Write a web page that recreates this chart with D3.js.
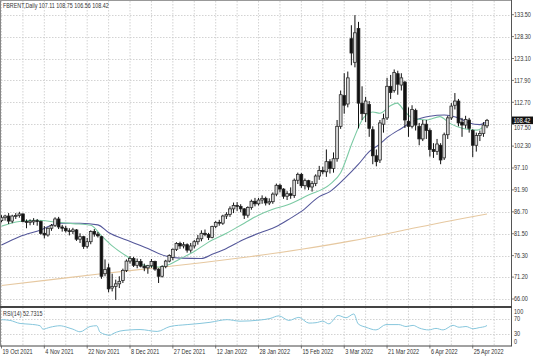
<!DOCTYPE html>
<html><head><meta charset="utf-8">
<script src="https://cdn.jsdelivr.net/npm/d3@7"></script>
<style>
body{margin:0;background:#fff;}
svg{display:block;}
text{font-family:"Liberation Sans",Arial,sans-serif;}
</style>
</head><body>
<svg id="c" width="536" height="357"></svg>
<script>
// ---------- DATA ----------
const symbolTitle = "FBRENT,Daily";
const lastOHLC = ["107.11","108.75","106.56","108.42"];
const opens  = [84.6,85.3,85.7,84.5,85.7,85.8,86.2,84.4,84.2,84.3,84.6,84.4,81.6,81.2,82.8,83.5,85.0,83.1,82.8,82.2,82.0,82.4,80.2,80.8,78.5,79.6,82.0,81.4,80.8,72.0,73.4,68.6,69.0,69.6,70.4,72.8,75.0,75.6,74.0,74.9,73.8,73.4,73.9,74.9,73.1,71.4,73.7,75.0,75.9,77.8,79.2,78.6,78.9,77.6,78.6,79.6,80.3,81.6,81.3,80.6,83.2,84.2,84.0,85.7,86.1,87.4,88.2,88.0,87.4,85.9,87.7,89.2,88.6,89.5,89.9,88.8,89.1,90.9,93.0,92.1,90.4,91.0,90.6,94.2,95.6,92.9,94.1,92.6,93.4,95.2,96.5,96.2,98.6,97.0,99.3,107.0,114.3,112.3,127.8,122.2,130.2,112.5,110.0,112.2,106.2,100.0,99.0,107.5,109.0,116.5,115.5,119.5,116.8,117.5,108.2,107.0,110.8,107.0,104.0,107.5,106.0,101.5,101.0,102.5,99.5,105.0,109.0,112.0,113.0,108.0,107.3,108.5,106.0,102.5,104.8,105.3,107.11];
const highs  = [85.9,86.0,86.4,86.0,86.4,86.7,86.3,84.9,84.9,85.2,85.0,84.6,83.3,83.0,83.8,85.4,85.5,83.6,83.4,82.8,82.9,82.6,81.6,81.0,80.5,82.3,82.6,81.9,81.0,75.4,74.4,72.0,70.6,71.4,73.2,75.4,76.2,76.0,75.6,75.5,74.4,74.1,75.5,75.1,73.3,74.0,75.3,76.6,78.0,79.5,79.6,79.5,79.2,79.3,80.0,81.2,82.3,82.5,81.7,83.4,84.5,84.8,86.0,86.6,88.0,88.9,89.0,88.5,87.6,88.0,89.6,90.0,90.0,90.6,90.3,89.9,91.3,93.4,93.4,92.3,91.6,92.5,94.6,96.0,95.9,94.6,94.3,94.0,95.6,97.6,97.4,101.5,99.2,100.8,108.5,115.5,119.6,120.0,131.0,133.4,131.8,116.5,114.0,113.0,107.0,101.5,108.5,110.0,118.5,119.2,120.5,120.2,119.6,117.8,111.5,112.0,111.2,107.8,108.5,108.5,106.5,103.0,104.0,103.0,105.5,109.5,112.5,114.9,113.5,109.0,109.5,109.0,106.3,105.5,106.0,108.0,108.75];
const lows   = [84.2,84.6,83.8,84.0,85.0,85.3,84.2,82.8,83.5,83.6,83.4,81.3,80.4,80.8,82.2,83.1,82.6,82.0,81.8,81.1,81.4,79.8,79.3,77.9,78.0,79.0,80.8,80.6,70.8,71.4,67.6,67.8,65.8,68.6,69.8,72.4,74.4,73.6,73.3,73.5,72.6,72.0,73.4,72.7,69.8,71.1,73.3,74.7,75.2,77.4,77.9,78.0,77.0,77.0,78.0,78.9,79.7,80.9,80.0,80.4,82.8,83.4,83.6,85.0,85.5,86.4,86.9,86.6,85.0,85.3,87.2,88.0,88.2,88.6,88.2,88.3,88.6,90.4,91.3,89.8,89.5,89.8,90.0,93.3,92.4,92.0,91.9,91.5,92.8,94.3,95.6,95.0,95.8,96.0,98.6,106.4,110.0,111.5,121.5,121.0,106.5,108.5,108.0,104.5,98.0,97.5,98.3,105.5,108.5,113.5,115.0,114.5,115.5,106.6,104.5,106.5,106.0,102.5,103.5,104.0,99.8,99.5,100.2,98.0,99.0,104.0,108.5,111.0,107.0,104.5,106.5,105.5,99.7,101.0,103.5,104.5,106.56];
const closes = [85.3,85.7,84.5,85.7,85.8,86.2,84.4,84.2,84.5,84.6,84.4,81.6,81.2,82.8,83.5,85.0,83.1,82.8,82.2,82.0,82.4,80.2,80.8,78.5,79.6,82.0,81.4,81.0,71.4,73.0,68.4,69.0,69.6,70.2,72.8,75.0,75.6,74.0,74.9,73.8,73.4,73.9,74.9,73.1,71.4,73.7,75.0,76.3,77.8,79.2,78.6,78.9,77.6,78.6,79.6,80.3,81.6,81.3,80.6,83.2,84.2,84.0,85.7,86.1,87.4,88.2,88.0,87.4,85.9,87.7,89.2,88.6,89.5,89.9,88.8,89.1,90.9,93.0,92.1,90.4,91.0,90.6,94.2,95.6,92.9,94.1,92.6,93.4,95.2,96.5,96.2,98.6,97.0,99.3,107.0,114.5,112.0,118.5,124.4,129.2,112.5,110.0,113.0,106.5,100.0,98.6,107.8,108.8,116.5,115.0,119.8,117.0,118.5,108.5,107.0,111.0,107.3,104.0,107.5,106.0,101.5,101.0,102.8,99.0,105.0,109.0,111.8,113.0,107.8,107.3,108.6,106.5,102.5,104.8,105.3,107.3,108.42];

// moving averages: [bar index, value]
const maFast = [[0,83.3],[5,84.4],[10,84.7],[15,84.3],[20,83.9],[25,83.5],[28,81.0],[31,78.6],[35,76.2],[40,74.0],[44,73.6],[47,74.2],[50,75.5],[54,77.3],[58,79.5],[63,81.6],[68,84.0],[72,85.9],[76,87.3],[80,88.3],[86,90.7],[92,93.2],[95,96.0],[98.5,103.7],[101.3,108.9],[104,110.4],[106,110.1],[108.8,111.8],[110.8,112.5],[113,110.5],[115.3,108.9],[119.2,108.5],[122.8,109.3],[125.6,107.7],[129.3,106.5],[133.2,106.1],[136,107.7]];
const maSlow = [[0,78.8],[5,80.8],[11,82.4],[16,84.0],[22,84.0],[27,83.6],[30,81.8],[35,80.0],[41,78.0],[46,76.2],[50,75.7],[56,75.6],[59,76.6],[63,78.0],[68,80.2],[73,81.9],[77,83.2],[81,85.2],[84,86.8],[89,90.3],[92,91.5],[96,94.5],[100,98.0],[103,101.0],[106,102.8],[108,104.3],[112,106.5],[116,108.5],[120,109.4],[124,109.7],[128,109.0],[131,107.8],[134,107.4],[136,108.2]];
const maLong = [[0,69.2],[14,70.6],[28,72.0],[42,73.3],[56,74.6],[70,76.1],[84,77.8],[98,79.8],[112,82.2],[124,84.3],[136,86.2]];
// RSI(14): [bar index, value]
const rsi = [[0,68],[2.4,66],[5.2,58],[8,56],[10.8,52],[11.6,43],[13.6,48],[16.4,52],[18.3,48],[20,43],[22,36],[24.8,50],[26.7,52],[27.6,35],[30.4,27],[31.2,31],[33.2,38],[36,41],[38.8,42],[43.6,37],[47.2,50],[52,55],[55.6,58],[58.4,61],[63.2,68],[66.8,64],[72.4,67],[75.2,71],[77.7,78],[80.5,66],[83.3,74],[86.1,59],[88.1,60],[90,64],[91.7,57],[94.3,79],[96.5,73],[98.7,83],[99.9,57],[102.1,48],[104.9,41],[107.7,55],[111.3,55],[113.3,50],[115.3,53],[117,46],[119.7,41],[121.7,45],[123.7,41],[126.5,53],[128.2,48],[130.1,50],[132.1,44],[133.8,47],[135.7,51],[136,52.7]];
const rsiLabel = "RSI(14) 52.7315";
const priceTicks = ["133.50","128.30","123.10","117.90","112.70","107.50","102.30","97.10","91.90","86.70","81.50","76.30","71.20","66.00"];
const rsiTicks = ["100","70","30","0"];
const dateLabels = ["19 Oct 2021","4 Nov 2021","22 Nov 2021","8 Dec 2021","27 Dec 2021","12 Jan 2022","28 Jan 2022","15 Feb 2022","3 Mar 2022","21 Mar 2022","6 Apr 2022","25 Apr 2022"];
const lastPrice = "108.42";

// ---------- LAYOUT ----------
const svg = d3.select("#c");
const L = 1, R = 511, mainTop = 1, mainBot = 306.5, rsiTop = 307.5, rsiBot = 345.5;
const x = d3.scaleLinear().domain([0, 136]).range([1.5, 1.5 + 136 * 3.57]);
const y = d3.scaleLinear().domain([66, 133.5]).range([299, 14.7]);
const yr = d3.scaleLinear().domain([0, 100]).range([rsiBot, rsiTop]);
const SX = 0.84;
const gridCol = "#c8c8c8";

svg.append("rect").attr("width",536).attr("height",357).attr("fill","#fff");

svg.append("clipPath").attr("id","mc").append("rect").attr("x",L).attr("y",mainTop).attr("width",R-L).attr("height",mainBot-mainTop);
svg.append("clipPath").attr("id","rc").append("rect").attr("x",L).attr("y",rsiTop).attr("width",R-L).attr("height",rsiBot-rsiTop);

// grid
const vIdx = d3.range(0, 140, 6).filter(i => x(i) < R - 1);
const grid = svg.append("g").attr("stroke", gridCol).attr("stroke-width",0.8).attr("stroke-dasharray","1.5,1.5");
vIdx.forEach(i => {
  grid.append("line").attr("x1",x(i)).attr("x2",x(i)).attr("y1",mainTop).attr("y2",mainBot);
  grid.append("line").attr("x1",x(i)).attr("x2",x(i)).attr("y1",rsiTop).attr("y2",rsiBot);
});
priceTicks.forEach(t => {
  const yy = Math.round(y(+t)) + 0.5;
  grid.append("line").attr("x1",L).attr("x2",R).attr("y1",yy).attr("y2",yy);
});
[70,30].forEach(v => {
  const yy = Math.round(yr(v)) + 0.5;
  grid.append("line").attr("x1",L).attr("x2",R).attr("y1",yy).attr("y2",yy);
});

// MA lines
const main = svg.append("g").attr("clip-path","url(#mc)");
const line = d3.line().x(d => x(d[0])).y(d => y(d[1])).curve(d3.curveMonotoneX);
main.append("path").attr("d", line(maLong)).attr("fill","none").attr("stroke","#e6c8a0").attr("stroke-width",1.1);
main.append("path").attr("d", line(maSlow)).attr("fill","none").attr("stroke","#55589a").attr("stroke-width",1.1);
main.append("path").attr("d", line(maFast)).attr("fill","none").attr("stroke","#7ccaa4").attr("stroke-width",1.1);

// candles
const bars = d3.range(closes.length);
const bw = 2.8;
main.append("g").selectAll("line").data(bars).join("line")
  .attr("x1", i => x(i)).attr("x2", i => x(i))
  .attr("y1", i => y(highs[i])).attr("y2", i => y(lows[i]))
  .attr("stroke","#111").attr("stroke-width",1);
main.append("g").selectAll("rect").data(bars).join("rect")
  .attr("x", i => x(i) - bw/2)
  .attr("y", i => y(Math.max(opens[i], closes[i])))
  .attr("width", bw)
  .attr("height", i => Math.max(0.8, Math.abs(y(opens[i]) - y(closes[i]))))
  .attr("fill", i => closes[i] >= opens[i] ? "#d4d4d4" : "#111")
  .attr("stroke","#222").attr("stroke-width",0.75);

// RSI line
const rsiG = svg.append("g").attr("clip-path","url(#rc)");
rsiG.append("path").attr("d", d3.line().x(d => x(d[0])).y(d => yr(d[1])).curve(d3.curveMonotoneX)(rsi))
  .attr("fill","none").attr("stroke","#86c6dc").attr("stroke-width",1);

// borders
const bd = svg.append("g").attr("fill","none");
bd.append("line").attr("x1",0.5).attr("x2",0.5).attr("y1",0).attr("y2",rsiBot).attr("stroke","#888").attr("stroke-width",1);
bd.append("line").attr("x1",0).attr("x2",R).attr("y1",0.5).attr("y2",0.5).attr("stroke","#999").attr("stroke-width",1);
bd.append("line").attr("x1",R+0.5).attr("x2",R+0.5).attr("y1",0).attr("y2",rsiBot+0.5).attr("stroke","#555").attr("stroke-width",1);
bd.append("line").attr("x1",0).attr("x2",R+1).attr("y1",307).attr("y2",307).attr("stroke","#444").attr("stroke-width",1.8);
bd.append("line").attr("x1",0).attr("x2",R+1).attr("y1",rsiBot+0.5).attr("y2",rsiBot+0.5).attr("stroke","#444").attr("stroke-width",1);

// axis ticks & labels
function txt(g, s, tx, ty, opts = {}) {
  return g.append("text").attr("transform", `translate(${tx},${ty}) scale(${SX},1)`)
    .attr("font-size", opts.size || 6.6).attr("fill", opts.fill || "#333").text(s);
}
const ax = svg.append("g");
const ly = y(+lastPrice);
priceTicks.forEach(t => {
  const yy = y(+t);
  ax.append("line").attr("x1",R).attr("x2",R+3).attr("y1",yy).attr("y2",yy).attr("stroke","#555").attr("stroke-width",0.8);
  // the label under the last-price box is pushed just below it
  const ty = Math.abs(yy - ly) < 8 ? ly + 9.6 : yy + 2.3;
  txt(ax, t, 514, ty);
});
rsiTicks.forEach(t => {
  let yy = yr(+t);
  if (+t === 100) yy = 311.7; if (+t === 0) yy = 341.7;
  txt(ax, t, 514, yy + 2.3);
});
ax.append("rect").attr("x",R+1).attr("y",ly-3.8).attr("width",21).attr("height",7.6).attr("fill","#111");
txt(ax, lastPrice, 513.5, ly + 2.3, {fill:"#fff"});

dateLabels.forEach((s, k) => {
  const xx = x(k * 12);
  ax.append("line").attr("x1",xx).attr("x2",xx).attr("y1",rsiBot).attr("y2",rsiBot+3).attr("stroke","#555").attr("stroke-width",0.8);
  txt(ax, s, Math.max(1.5, xx + 1), 354);
});

txt(ax, `${symbolTitle}  ${lastOHLC.join(" ")}`, 3, 8.3, {size:6.4});
txt(ax, rsiLabel, 3, 315.5, {size:6.4});
</script>
</body></html>
